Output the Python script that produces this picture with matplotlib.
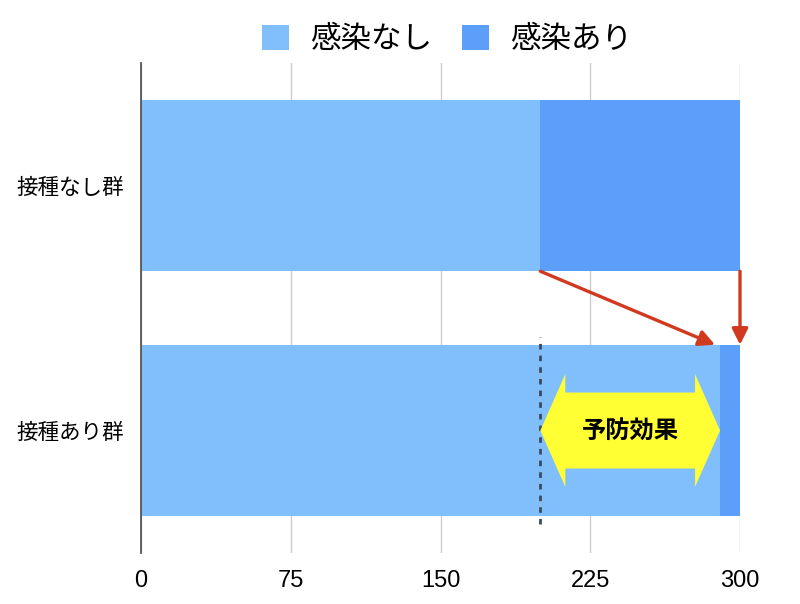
import matplotlib
matplotlib.use('Agg')
import matplotlib.pyplot as plt
from matplotlib.patches import Polygon

plt.rcParams['font.family'] = ['Noto Sans CJK JP', 'DejaVu Sans']

# データ
groups = ['接種あり群', '接種なし群']
no_infection = [290, 200]
infection = [10, 100]
series_names = ['感染なし', '感染あり']
xticks = [0, 75, 150, 225, 300]
effect_label = '予防効果'

color_light = '#80BFFB'
color_dark = '#5B9FFB'

fig = plt.figure(figsize=(8, 6.04), dpi=100)
ax = fig.add_axes([0.17625, 0.0844, 0.74875, 0.8113])

ypos = list(range(len(groups)))
h = 0.7
ax.barh(ypos, no_infection, height=h, color=color_light, label=series_names[0], zorder=2)
ax.barh(ypos, infection, left=no_infection, height=h, color=color_dark,
        label=series_names[1], zorder=2)

ax.set_xlim(0, 300)
ax.set_ylim(-0.5, 1.5)
ax.set_xticks(xticks)
ax.set_xticklabels([str(t) for t in xticks], fontsize=17, family=['Liberation Sans', 'DejaVu Sans'])
ax.set_yticks(ypos)
ax.set_yticklabels(groups, fontsize=15.5)
ax.tick_params(axis='both', length=0)
ax.tick_params(axis='y', pad=12)
ax.tick_params(axis='x', pad=12)
ax.grid(axis='x', color='#CCCCCC', linewidth=1, zorder=0)
for s in ['top', 'right', 'bottom']:
    ax.spines[s].set_visible(False)
ax.spines['left'].set_color('#555555')
ax.spines['left'].set_linewidth(1.3)
ax.spines['left'].set_zorder(3)

# 予防効果の点線
x_ref = no_infection[1]
ax.plot([x_ref, x_ref], [-0.38, 0.38], color='#3C4A5C', linestyle=(0, (2, 2.2)),
        linewidth=2, zorder=4)

# 黄色の両矢印
x0 = no_infection[1]
x1 = no_infection[0]
yc = ypos[0]
hl, hh, sh = 12.5, 0.23, 0.155
pts = [(x0, yc), (x0 + hl, yc + hh), (x0 + hl, yc + sh), (x1 - hl, yc + sh),
       (x1 - hl, yc + hh), (x1, yc), (x1 - hl, yc - hh), (x1 - hl, yc - sh),
       (x0 + hl, yc - sh), (x0 + hl, yc - hh)]
ax.add_patch(Polygon(pts, closed=True, facecolor='#FFFF33', edgecolor='none', zorder=5))
ax.text((x0 + x1) / 2, yc, effect_label, ha='center', va='center',
        fontsize=17.5, fontweight='bold', zorder=6)

# 赤い矢印
top_edge = ypos[1] - h / 2
bot_edge = ypos[0] + h / 2
red = '#D13A1E'
ax.annotate('', xy=(x1 - 2.5, bot_edge), xytext=(x0, top_edge),
            arrowprops=dict(arrowstyle='-|>', color=red, lw=2.4,
                            mutation_scale=24, shrinkA=0, shrinkB=0), zorder=6)
total = no_infection[1] + infection[1]
ax.annotate('', xy=(total, bot_edge), xytext=(total, top_edge),
            arrowprops=dict(arrowstyle='-|>', color=red, lw=2.4,
                            mutation_scale=24, shrinkA=0, shrinkB=0), zorder=6)

fig.legend(loc='center', bbox_to_anchor=(0.559, 0.935), ncol=2, frameon=False,
           fontsize=22, handlelength=0.88, handleheight=0.88, handletextpad=0.69,
           columnspacing=1.0)

fig.savefig('out.png', dpi=100)
